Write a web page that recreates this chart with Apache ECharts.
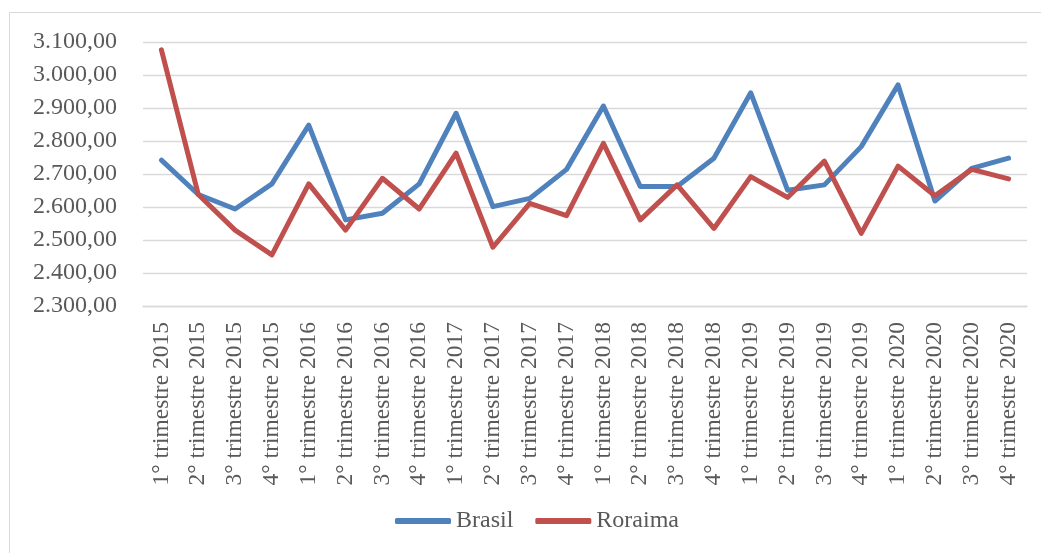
<!DOCTYPE html>
<html>
<head>
<meta charset="utf-8">
<script src="https://cdn.jsdelivr.net/npm/echarts@6/dist/echarts.min.js"></script>
<style>
  html, body { margin: 0; padding: 0; background: #fff; }
  #chart { width: 1041px; height: 553px; }
</style>
</head>
<body>
<div id="chart"></div>
<script>
// Quarter labels on the category axis
const quarters = [
  '1° trimestre 2015', '2° trimestre 2015', '3° trimestre 2015', '4° trimestre 2015',
  '1° trimestre 2016', '2° trimestre 2016', '3° trimestre 2016', '4° trimestre 2016',
  '1° trimestre 2017', '2° trimestre 2017', '3° trimestre 2017', '4° trimestre 2017',
  '1° trimestre 2018', '2° trimestre 2018', '3° trimestre 2018', '4° trimestre 2018',
  '1° trimestre 2019', '2° trimestre 2019', '3° trimestre 2019', '4° trimestre 2019',
  '1° trimestre 2020', '2° trimestre 2020', '3° trimestre 2020', '4° trimestre 2020'
];

// Quarterly values per region
const brasil = [
  2742, 2638, 2594, 2670, 2848, 2561, 2581, 2670,
  2884, 2601, 2626, 2714, 2906, 2662, 2662, 2748,
  2946, 2651, 2667, 2783, 2970, 2618, 2717, 2748
];
const roraima = [
  3076, 2638, 2530, 2455, 2670, 2530, 2687, 2594,
  2763, 2478, 2611, 2574, 2793, 2561, 2667, 2535,
  2692, 2629, 2739, 2520, 2724, 2634, 2714, 2685
];

// Value axis range
const yMin = 2300;
const yMax = 3100;
const yStep = 100;

const FONT = '"Liberation Serif", "Times New Roman", serif';
const TEXT = '#595959';
const BLUE = '#4F81BD';
const RED = '#C0504D';

const fmt = new Intl.NumberFormat('pt-BR', { minimumFractionDigits: 2, maximumFractionDigits: 2 });

const chart = echarts.init(document.getElementById('chart'), null, { renderer: 'canvas' });

chart.setOption({
  animation: false,
  backgroundColor: '#ffffff',
  graphic: [{
    type: 'rect',
    shape: { x: 9.5, y: 12.5, width: 1060, height: 560 },
    style: { fill: 'none', stroke: '#d9d9d9', lineWidth: 1 },
    silent: true,
    z: -10
  }],
  grid: { left: 143, right: 14, top: 42, bottom: 247 },
  legend: {
    left: 395,
    top: 509,
    padding: 0,
    icon: 'roundRect',
    itemWidth: 56,
    itemHeight: 6,
    itemGap: 22,
    textStyle: { fontFamily: FONT, fontSize: 24, color: TEXT },
    data: ['Brasil', 'Roraima']
  },
  xAxis: {
    type: 'category',
    data: quarters,
    boundaryGap: true,
    axisLine: { show: true, lineStyle: { color: '#d9d9d9', width: 1.3 } },
    axisTick: { show: false },
    axisLabel: {
      rotate: 90,
      interval: 0,
      margin: 16,
      fontFamily: FONT,
      fontSize: 23.5,
      color: TEXT
    }
  },
  yAxis: {
    type: 'value',
    min: yMin,
    max: yMax,
    interval: yStep,
    axisLine: { show: false },
    axisTick: { show: false },
    splitLine: { lineStyle: { color: '#d9d9d9', width: 1.3 } },
    axisLabel: {
      margin: 26,
      fontFamily: FONT,
      fontSize: 24,
      color: TEXT,
      formatter: v => fmt.format(v)
    }
  },
  series: [
    {
      name: 'Brasil',
      type: 'line',
      data: brasil,
      symbol: 'none',
      color: BLUE,
      lineStyle: { width: 5, color: BLUE, cap: 'round', join: 'round' },
      z: 2
    },
    {
      name: 'Roraima',
      type: 'line',
      data: roraima,
      symbol: 'none',
      color: RED,
      lineStyle: { width: 5, color: RED, cap: 'round', join: 'round' },
      z: 3
    }
  ]
});
</script>
</body>
</html>
